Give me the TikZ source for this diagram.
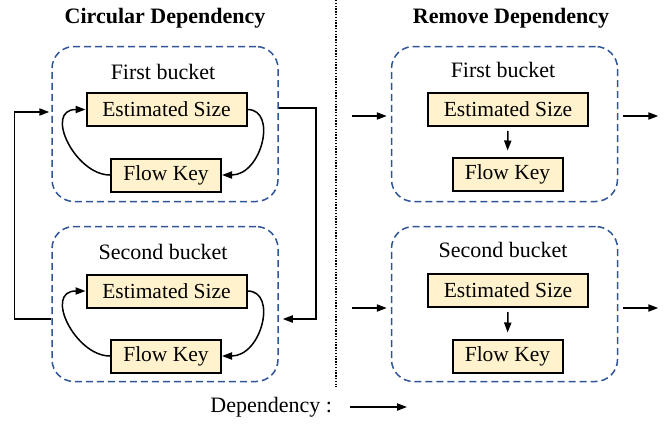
\documentclass[tikz,border=0pt]{standalone}
\usepackage{fontspec}
\setmainfont{Liberation Serif}
\usetikzlibrary{arrows.meta,calc}
\definecolor{bucketblue}{RGB}{47,85,151}
\definecolor{fieldfill}{RGB}{255,242,204}
\begin{document}
\begin{tikzpicture}[x=0.5pt,y=-0.5pt,
  >={Triangle[length=5pt,width=3.6pt]},
  bucket/.style={draw=bucketblue,dash pattern=on 3.5pt off 2pt,line width=0.75pt,
                 rounded corners=11pt,minimum width=113pt,minimum height=77.5pt},
  field/.style={draw,line width=1pt,fill=fieldfill,inner sep=0pt,minimum height=16.5pt,
                font=\fontsize{10.75}{12}\selectfont},
  esbox/.style={field,minimum width=80pt},
  fkbox/.style={field,minimum width=55pt},
  bucketname/.style={font=\fontsize{11}{13}\selectfont},
  heading/.style={font=\fontsize{11}{13}\selectfont\bfseries},
  dep/.style={->,line width=0.75pt}]
\useasboundingbox (0,0) rectangle (667,423);

\node[heading] (circ) at (165,18) {Circular Dependency};
\node[heading] (remv) at (511,18) {Remove Dependency};
\draw[line width=0.7pt,dash pattern=on 0.7pt off 0.7pt] (336,0) -- (336,387);

% circular side
\node[bucket] (lb1) at (165,124) {};
\node[bucket] (lb2) at (165,304) {};
\node[bucketname] (lname1) at (163,72) {First bucket};
\node[bucketname] (lname2) at (163,252) {Second bucket};
\node[esbox] (les1) at (166.5,109.5) {Estimated Size};
\node[fkbox] (lfk1) at (166,175) {Flow Key};
\node[esbox] (les2) at (166.5,291) {Estimated Size};
\node[fkbox] (lfk2) at (166,356) {Flow Key};
\draw[dep] (les1.east) .. controls +(30,0) and +(40,0) .. (lfk1.east);
\draw[dep] (lfk1.west) .. controls +(-35,0) and +(-42,0) .. (les1.west);
\draw[dep] (les2.east) .. controls +(30,0) and +(40,0) .. (lfk2.east);
\draw[dep] (lfk2.west) .. controls +(-35,0) and +(-42,0) .. (les2.west);
\draw[dep] ($(lb2.west)+(0,15)$) -- ++(-37,0) |- ($(lb1.west)+(-2,-12)$);
\draw[dep] ($(lb1.east)+(0,-16)$) -- ++(37,0) |- ($(lb2.east)+(4,15)$);

% removed side
\node[bucket] (rb1) at (504.5,124) {};
\node[bucket] (rb2) at (504.5,304) {};
\node[bucketname] (rname1) at (503,70) {First bucket};
\node[bucketname] (rname2) at (503,250) {Second bucket};
\node[esbox] (res1) at (508,109.5) {Estimated Size};
\node[fkbox] (rfk1) at (507.5,174) {Flow Key};
\node[esbox] (res2) at (508,290.5) {Estimated Size};
\node[fkbox] (rfk2) at (507.5,356) {Flow Key};
\draw[dep,shorten <=2pt,shorten >=3pt] (res1.south) -- (rfk1.north);
\draw[dep,shorten <=2pt,shorten >=3pt] (res2.south) -- (rfk2.north);
\draw[dep] ($(rb1.west)+(-39,-8)$) -- ($(rb1.west)+(-4,-8)$);
\draw[dep] ($(rb1.east)+(5,-8)$) -- ++(35,0);
\draw[dep] ($(rb2.west)+(-39,4)$) -- ($(rb2.west)+(-4,4)$);
\draw[dep] ($(rb2.east)+(5,4)$) -- ++(35,0);

% legend
\node[bucketname,anchor=east] (legend) at (339,407) {Dependency :};
\draw[dep] ($(legend.east)+(11,0)$) -- ++(57,0);
\end{tikzpicture}
\end{document}
